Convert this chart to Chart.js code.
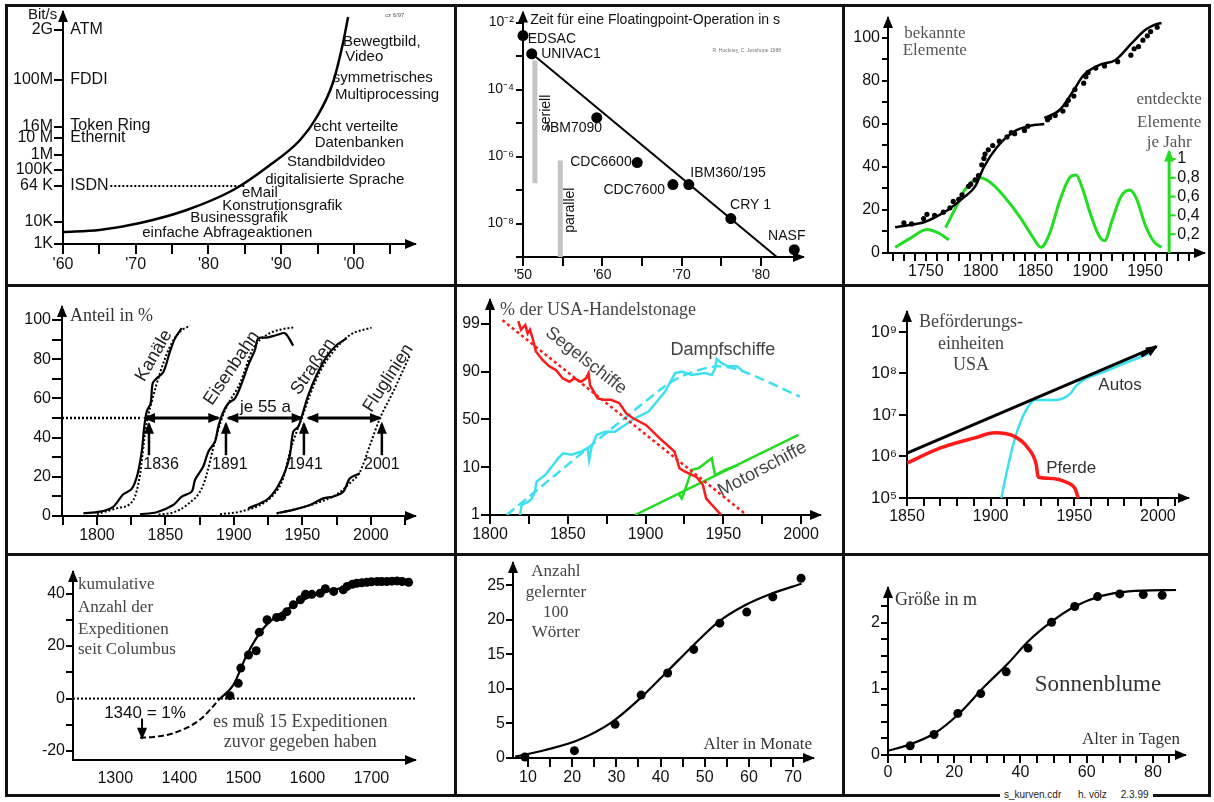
<!DOCTYPE html>
<html><head><meta charset="utf-8">
<script src="https://cdn.jsdelivr.net/npm/chart.js@4.4.1/dist/chart.umd.min.js"></script>
<style>
body{margin:0;background:#fff;width:1214px;height:802px;position:relative;overflow:hidden}
canvas{position:absolute}
.frame{position:absolute;left:5px;top:4px;width:1206px;height:793px;border:3px solid #111;box-sizing:border-box}
.vl{position:absolute;top:4px;width:3px;height:793px;background:#111}
.hl{position:absolute;left:5px;width:1206px;height:3px;background:#111}
.sig{position:absolute;left:1000px;top:789px;font:10px "Liberation Sans";background:#fff;padding:0 4px;white-space:pre;color:#222}
</style></head><body>
<div class="frame"></div>
<div class="vl" style="left:454px"></div><div class="vl" style="left:842px"></div>
<div class="hl" style="top:284px"></div><div class="hl" style="top:553px"></div>
<canvas id="c1"></canvas><canvas id="c2"></canvas><canvas id="c3"></canvas>
<canvas id="c4"></canvas><canvas id="c5"></canvas><canvas id="c6"></canvas>
<canvas id="c7"></canvas><canvas id="c8"></canvas><canvas id="c9"></canvas>
<div class="sig">s_kurven.cdr      h. völz     2.3.99</div>
<script>
// ---- 1: Datenrate (schematische Achse) ----
const rateTickAt = [0, 22, 58, 74, 89, 106, 117, 164, 214];
const rateTickLabels = ['1K', '10K', '64 K', '100K', '1M', '10 M', '16M', '100M', '2G'];
const netYears = [1960, 1965, 1970.6, 1977, 1983.4, 1988.1, 1992.6, 1994.9, 1997.1, 1998.5, 1999.2];
const netRate = [12, 14, 21, 34, 54, 77, 104, 127, 161, 201, 227];
const isdnYears = [1966.5, 1985];
const isdnRate = [58, 58];

// ---- 2: Floatingpoint ----
const computers = ['EDSAC', 'UNIVAC1', 'IBM7090', 'CDC6600', 'CDC7600', 'IBM360/195', 'CRY 1', 'NASF'];
const compYears = [1950, 1951.1, 1959.3, 1964.4, 1968.9, 1970.9, 1976.2, 1984.2];
const compSeconds = [4.1e-3, 1.17e-3, 1.45e-5, 6.6e-7, 1.45e-7, 1.45e-7, 1.4e-8, 1.66e-9];
const trendYears = [1951.1, 1982];
const trendSeconds = [1.2e-3, 1e-9];
const seriellYears = [1951.5, 1951.5], seriellSeconds = [7.4e-4, 1.6e-7];
const parallelYears = [1954.7, 1954.7], parallelSeconds = [7.6e-7, 1e-9];

// ---- 3: Elemente ----
const knownYears = [1722, 1735, 1749, 1760, 1770, 1785, 1795, 1803, 1815, 1830, 1845, 1858, 1858, 1858, 1872, 1885, 1894, 1908, 1923, 1938, 1950, 1958, 1965];
const knownCount = [12, 13, 14.4, 17, 20, 26, 31, 40, 49.3, 56.3, 59.2, 60, null, 62.8, 66.5, 75.8, 82.8, 87.4, 89.8, 97.7, 103.7, 106, 107];
const foundYears = [1730, 1737, 1748, 1751, 1758, 1766, 1772, 1775, 1780, 1783, 1789, 1791, 1795, 1798, 1801, 1803, 1804, 1807, 1811, 1817, 1824, 1828, 1831, 1840, 1843, 1861, 1863, 1868, 1875, 1878, 1880, 1885, 1886, 1894, 1896, 1898, 1905, 1913, 1925, 1937, 1940, 1944, 1948, 1952, 1955, 1961];
const foundCount = [14, 13.5, 16, 18, 17.5, 19, 21, 24, 25, 27, 31, 32, 34, 36, 41, 44, 46, 48, 50, 52, 54, 56, 55.5, 57, 59, 62, 63, 64, 66, 69, 71, 73, 76, 79, 82, 84, 86, 87, 89, 92, 95, 96, 99, 101, 103, 105];
const perYearA = [1722, 1735, 1751, 1762, 1771];
const perYearAVal = [0.06, 0.15, 0.25, 0.21, 0.14];
const perYearB = [1768, 1778, 1786, 1800, 1812, 1825, 1836, 1847, 1855, 1863, 1872, 1881, 1887, 1893, 1900, 1908, 1913, 1920, 1928, 1936, 1942, 1950, 1958, 1965];
const perYearBVal = [0.27, 0.5, 0.68, 0.8, 0.72, 0.55, 0.38, 0.18, 0.06, 0.21, 0.55, 0.8, 0.83, 0.68, 0.42, 0.18, 0.13, 0.35, 0.6, 0.67, 0.58, 0.3, 0.12, 0.06];
const perYearTicks = [0.2, 0.4, 0.6, 0.8, 1];
const perYearLabels = ['0,2', '0,4', '0,6', '0,8', '1'];

// ---- 4: Infrastruktur ----
const kanalYears = [1790.1, 1802.2, 1811.9, 1819.2, 1825.4, 1829.5, 1832.7, 1834.4, 1836.3, 1839.2, 1840.7, 1843.6, 1848.4, 1853.3, 1857, 1861.9];
const kanalShare = [1.4, 2.2, 4.7, 11.1, 13.8, 20.9, 32.8, 44.7, 53.2, 57.5, 67.7, 70.2, 73.3, 83.8, 90.6, 95.8];
const kanalFitYears = [1800, 1815, 1826.6, 1831.4, 1835.6, 1840, 1846, 1853.3, 1860.6, 1868];
const kanalFitShare = [1, 4, 8.2, 20.9, 44.7, 58.3, 72.8, 86.4, 94, 97.1];
const bahnYears = [1831.4, 1843.6, 1855.7, 1861.9, 1869.2, 1871.6, 1877.6, 1881.3, 1886.2, 1888.6, 1891.8, 1895.9, 1900.8, 1905.7, 1910.5, 1915.4, 1917.8, 1923.9, 1931.2, 1937.3, 1943.3];
const bahnShare = [0.9, 1.9, 5.6, 9.9, 12.4, 18.4, 25.2, 32.8, 37.9, 45.6, 52.4, 57.5, 60, 67.7, 77, 84.7, 90.6, 91, 92.3, 93.2, 86.9];
const bahnFitYears = [1845, 1855.7, 1865.5, 1877.6, 1887.4, 1893.5, 1904.4, 1914.1, 1923.9, 1936, 1943.3];
const bahnFitShare = [0.8, 1.8, 5.6, 15.8, 41.3, 53.9, 67.7, 85.5, 92.3, 95.4, 96.1];
const strasseYears = [1910.5, 1923.9, 1931.2, 1937.3, 1940.9, 1943.3, 1947, 1949.5, 1954.3, 1960.4, 1967.7, 1975, 1982.3];
const strasseShare = [3.9, 8.2, 14.1, 22.6, 31.1, 43, 45.6, 50.7, 61.7, 71.9, 81.3, 87.2, 90.6];
const strasseFitYears = [1889.8, 1904.4, 1919, 1928.7, 1936, 1940.9, 1945.8, 1949.5, 1955.5, 1962.8, 1972.5, 1984.7, 2000.5];
const strasseFitShare = [0.9, 2.2, 5.6, 10.7, 19.2, 32.8, 43, 49.8, 61.7, 73.6, 83.8, 92.3, 96.1];
const flugYears = [1931.2, 1943.3, 1955.5, 1965.2, 1972.5, 1979.8, 1984.7, 1992];
const flugShare = [1.4, 3.1, 5.6, 9, 9.9, 12.4, 19.2, 21.8];
const flugFitYears = [1931.2, 1945, 1960, 1975, 1985, 1992, 1999.3, 2006.6, 2016.3, 2028.5];
const flugFitShare = [1.2, 3.5, 6.5, 11, 17, 22.5, 36.1, 49.8, 63.4, 82.1];
const halfYears = [1774.5, 1831.4], halfShare = [50, 50];

// ---- 5: Handelstonage (Achse 1/10/50/90/99 gleichabstaendig) ----
const shareStops = [1, 10, 50, 90, 99];
const segelYears = [1818.2, 1819.9, 1822.7, 1824.2, 1825.7, 1827.4, 1829.5, 1833.8, 1838.1, 1842.4, 1846.7, 1851, 1854.2, 1858.5, 1861.7, 1863.4, 1864.3, 1869.2, 1873.5, 1877.8, 1883.2, 1887.5, 1891.8, 1900.4, 1909, 1918.6, 1921.8, 1925.1, 1932.6, 1936.9, 1939, 1948.7];
const segelShare = [99.5, 97.9, 98.8, 97.2, 97.9, 96.3, 93.8, 92.2, 91.0, 90.3, 84.4, 81.6, 84.4, 81.6, 84.4, 88.8, 78.8, 67.6, 66.4, 66.4, 63.6, 55.2, 51.2, 45.2, 34.4, 23.2, 9.8, 9.2, 8.2, 6.7, 4.1, 1.0];
const segelFitYears = [1808, 1965], segelFitShare = [99.7, 1];
const dampfYears = [1819.3, 1820.4, 1824.7, 1826.8, 1828.9, 1830, 1835.4, 1839.7, 1843.9, 1847.1, 1852.5, 1859, 1862.8, 1863.7, 1865.4, 1868.6, 1874, 1880.4, 1886.8, 1893.2, 1901.8, 1912.5, 1919, 1923.3, 1929.7, 1938.3, 1942.6, 1944.7, 1945.8, 1949, 1953.3, 1958.7, 1961.9];
const dampfShare = [1.0, 2.9, 3.5, 4.1, 5.4, 7.3, 8.5, 10.4, 17.6, 21.6, 20.4, 23.2, 26, 16, 27.2, 37, 39.8, 39.8, 45.4, 51, 56.4, 73.2, 88.8, 90, 87.2, 88.8, 87.2, 90.6, 92.4, 91.6, 91, 91, 90.3];
const dampfFitYears = [1810.7, 1913.3, 1928.3, 1945.5, 1960.6, 1999.2];
const dampfFitShare = [1.0, 78.8, 88.8, 91.0, 90.3, 69.2];
const motorYears = [1921.1, 1923.3, 1925.4, 1929.7, 1934, 1942.6, 1944.7, 1951.1, 1959.7];
const motorShare = [5.1, 4.1, 5.7, 9.5, 9.8, 17.5, 8.5, 9.5, 11.9];
const motorFitYears = [1893.2, 1998.3], motorFitShare = [1, 37];

// ---- 6: Befoerderungseinheiten ----
const horseYears = [1850, 1870, 1890.5, 1902.5, 1914.5, 1922.3, 1927.3, 1928.4, 1934.4, 1946.4, 1950.4, 1952.4];
const horseUnits = [6.9e5, 1.6e6, 2.8e6, 3.7e6, 3.0e6, 1.6e6, 6.3e5, 3.2e5, 3.0e5, 2.3e5, 1.7e5, 1e5];
const carYears = [1906.4, 1910.6, 1914.6, 1920.7, 1926.6, 1938.6, 1948.4, 1950.4, 1970.4, 1996];
const carUnits = [1e5, 6.3e5, 2.8e6, 1.2e7, 2.3e7, 2.3e7, 3.5e7, 4.7e7, 1.2e8, 3.1e8];
const unitTrendYears = [1850, 1999], unitTrendValues = [1.2e6, 4.4e8];

// ---- 7: Expeditionen ----
const expYears = [1479, 1492, 1496, 1508, 1520, 1525, 1537, 1552, 1560, 1568, 1578, 1589, 1597, 1607, 1620, 1628, 1641, 1656, 1662, 1670, 1677, 1685, 1693, 1700, 1709, 1716, 1724, 1732, 1740, 1748, 1758];
const expCount = [1.1, 5.8, 11.6, 16.6, 18.2, 25.3, 30, 30.9, 31.2, 33.1, 35.7, 37.6, 39.7, 39.7, 40.1, 41.8, 40.8, 41.4, 42.7, 43.5, 43.9, 44.1, 44.3, 44.5, 44.6, 44.6, 44.6, 44.7, 44.8, 44.6, 44.3];
const expBeforeYears = [1338.7, 1360, 1390.7, 1432, 1463.7];
const expBeforeCount = [-14.9, -14.6, -13.2, -8.1, 0];
const expFitYears = [1463.7, 1484.5, 1505.3, 1531.4, 1562.6, 1599, 1640.6, 1693, 1760];
const expFitCount = [0, 5.2, 16.6, 26.8, 33.1, 38.2, 41.4, 43.5, 44.8];
const zeroYears = [1234, 1768], zeroCount = [0, 0];

// ---- 8: Woerter ----
const wordAge = [9.3, 20.5, 29.7, 35.6, 41.6, 47.5, 53.4, 59.5, 65.4, 71.8];
const wordCount = [0.15, 1.06, 4.87, 9.1, 12.3, 15.7, 19.5, 21.1, 23.3, 26.0];
const wordFitAge = [7.1, 13.9, 21.4, 29, 35, 41.8, 47.1, 53.1, 59.1, 65.2, 71.9];
const wordFitCount = [0.2, 1.16, 2.6, 5.2, 8.4, 12.7, 16.1, 19.7, 22.1, 23.8, 25.2];

// ---- 9: Sonnenblume ----
const sunDays = [6.7, 13.9, 21.1, 28, 35.7, 42.3, 49.4, 56.4, 63.3, 70, 77.1, 82.8];
const sunHeight = [0.14, 0.31, 0.63, 0.93, 1.26, 1.62, 2.01, 2.25, 2.40, 2.44, 2.43, 2.42];
const sunFitDays = [0, 6, 14.1, 21.1, 29.2, 36.3, 42.3, 49.4, 56.4, 64.5, 72.6, 87];
const sunFitHeight = [0.065, 0.15, 0.33, 0.61, 1.04, 1.39, 1.72, 2.02, 2.25, 2.41, 2.48, 2.50];

// ---------------------------------------------------------------
const SANS = '"Liberation Sans", Arial, sans-serif';
const SERIF = '"Liberation Serif", "Times New Roman", serif';
const fnt = (s, fam) => s + 'px ' + fam;
Chart.defaults.font.family = SANS;
Chart.defaults.color = '#111';

const range = (a, b, s) => { const r = []; for (let v = a; v <= b + 1e-9; v += s) r.push(+v.toFixed(6)); return r; };
const pts = (xs, ys, fy) => xs.map((x, i) => ({x, y: ys[i] == null ? null : (fy ? fy(ys[i]) : ys[i])}));

// position of a percentage on the evenly spaced 1/10/50/90/99 axis
function shareLevel(p) {
  let i = 0;
  while (i < shareStops.length - 2 && p > shareStops[i + 1]) i++;
  return i + (p - shareStops[i]) / (shareStops[i + 1] - shareStops[i]);
}

function axis(min, max, ticks, labAt, labTxt, o = {}) {
  return {
    type: o.type || 'linear', min, max,
    grid: {drawOnChartArea: false, drawTicks: o.noTicks ? false : true, tickLength: o.tl || 8, color: '#000', lineWidth: 2},
    border: {color: '#000', width: 2},
    ticks: {
      autoSkip: false, maxRotation: 0, minRotation: 0, padding: o.pad == null ? 2 : o.pad, color: '#111',
      font: {size: o.fs || 16},
      callback: v => {
        const i = labAt.findIndex(l => Math.abs(l - v) <= Math.abs(v) * 1e-6 + 1e-12);
        return i < 0 ? '' : labTxt[i];
      }
    },
    afterBuildTicks: s => { s.ticks = ticks.map(v => ({value: v})); }
  };
}

const line = (data, color, w, extra) => Object.assign({data, showLine: true, borderColor: color, borderWidth: w, pointRadius: 0, tension: 0}, extra);
const smooth = {tension: 0.4, cubicInterpolationMode: 'monotone'};
const dots = (data, r, color) => ({data, showLine: false, pointRadius: r, pointBackgroundColor: color || '#000', pointBorderWidth: 0, clip: false});

function head(ctx, x, y, ang, color) {
  ctx.save();
  ctx.translate(x, y); ctx.rotate(ang);
  ctx.fillStyle = color || '#000';
  ctx.beginPath(); ctx.moveTo(2, 0); ctx.lineTo(-10, -5); ctx.lineTo(-10, 5); ctx.closePath(); ctx.fill();
  ctx.restore();
}

const decor = {
  id: 'decor',
  afterDraw(chart, args, o) {
    const {ctx, chartArea: a, scales} = chart;
    const X = v => scales.x.getPixelForValue(v);
    const Y = (v, id) => scales[id || 'y'].getPixelForValue(v);
    ctx.save();
    head(ctx, a.left, a.top, -Math.PI / 2);
    head(ctx, a.right, a.bottom, 0);
    (o.lines || []).forEach(l => {
      const p = l.pts.map(q => [X(q[0]), Y(q[1], l.ya)]);
      ctx.strokeStyle = l.c || '#000'; ctx.lineWidth = l.w || 2; ctx.setLineDash(l.dash || []);
      ctx.beginPath();
      p.forEach((q, i) => i ? ctx.lineTo(q[0], q[1]) : ctx.moveTo(q[0], q[1]));
      ctx.stroke(); ctx.setLineDash([]);
      const n = p.length - 1;
      if (l.head === 'end' || l.head === 'both') head(ctx, p[n][0], p[n][1], Math.atan2(p[n][1] - p[n - 1][1], p[n][0] - p[n - 1][0]), l.c);
      if (l.head === 'both') head(ctx, p[0][0], p[0][1], Math.atan2(p[0][1] - p[1][1], p[0][0] - p[1][0]), l.c);
    });
    (o.texts || []).forEach(t => {
      ctx.save();
      ctx.translate(X(t.x), Y(t.y, t.ya));
      if (t.rot) ctx.rotate(t.rot * Math.PI / 180);
      ctx.font = t.f || fnt(15, SANS);
      ctx.fillStyle = t.c || '#111';
      ctx.textAlign = t.al || 'left'; ctx.textBaseline = 'middle';
      ctx.fillText(t.t, 0, 0);
      ctx.restore();
    });
    ctx.restore();
  }
};
Chart.register(decor);

// box = canvas [left, top, width, height], area = plot [left, top, right, bottom] on the page
function makeChart(id, box, area, datasets, scales, decorOpts) {
  const cv = document.getElementById(id);
  cv.style.left = box[0] + 'px'; cv.style.top = box[1] + 'px';
  cv.width = box[2]; cv.height = box[3];
  const yW = area[0] - box[0], xH = box[1] + box[3] - area[3];
  scales.x.afterFit = s => { s.height = xH; s.paddingLeft = 0; s.paddingRight = 0; };
  scales.y.afterFit = s => { s.width = yW; s.paddingTop = 0; s.paddingBottom = 0; };
  return new Chart(cv, {
    type: 'scatter',
    data: {datasets},
    options: {
      responsive: false, animation: false, devicePixelRatio: 1,
      layout: {padding: {top: area[1] - box[1], right: box[0] + box[2] - area[2], left: 0, bottom: 0}},
      scales,
      plugins: {legend: {display: false}, tooltip: {enabled: false}, decor: decorOpts}
    }
  });
}

const ROW = [7, 287, 556], RH = [277, 266, 238];
const COL = [8, 457, 845], CW = [446, 385, 363];
const RED = '#ff1a1a', CYAN = '#3ee0f0', GREEN = '#22dd22';

// 1
makeChart('c1', [COL[0], ROW[0], CW[0], RH[0]], [63, 12, 415, 244], [
  line(pts(netYears, netRate), '#000', 2.5, smooth),
  line(pts(isdnYears, isdnRate), '#000', 2, {borderDash: [2, 2]})
], {
  x: axis(1960, 2008.4, range(1960, 2005, 5), [1960, 1970, 1980, 1990, 2000], ["'60", "'70", "'80", "'90", "'00"], {tl: 10, pad: 1}),
  y: axis(0, 232, rateTickAt, rateTickAt, rateTickLabels, {tl: 9, pad: 1})
}, {
  texts: [
    {x: 1959.2, y: 229, t: 'Bit/s', al: 'right', f: fnt(15, SANS)},
    {x: 1961, y: 214, t: 'ATM', f: fnt(16, SANS)}, {x: 1961, y: 164, t: 'FDDI', f: fnt(16, SANS)},
    {x: 1961, y: 118, t: 'Token Ring', f: fnt(16, SANS)}, {x: 1961, y: 106, t: 'Ethernit', f: fnt(16, SANS)},
    {x: 1961, y: 58, t: 'ISDN', f: fnt(16, SANS)},
    {x: 1998.5, y: 202, t: 'Bewegtbild,'}, {x: 1998.8, y: 187, t: 'Video'},
    {x: 1997.1, y: 166, t: 'symmetrisches'}, {x: 1997.4, y: 149, t: 'Multiprocessing'},
    {x: 1994.4, y: 117, t: 'echt verteilte'}, {x: 1994.6, y: 101, t: 'Datenbanken'},
    {x: 1990.8, y: 82, t: 'Standbildvideo'}, {x: 1987.8, y: 64, t: 'digitalisierte Sprache'},
    {x: 1984.6, y: 51, t: 'eMail'}, {x: 1981.9, y: 38, t: 'Konstrutionsgrafik'},
    {x: 1977.5, y: 26, t: 'Businessgrafik'}, {x: 1970.9, y: 11, t: 'einfache Abfrageaktionen'},
    {x: 2005.6, y: 229, t: 'cz 6/97', f: fnt(6, SANS), c: '#555', al: 'center'}
  ]
});

// 2
const exps2 = range(-9, -2, 1).map(e => Math.pow(10, e));
makeChart('c2', [COL[1], ROW[0], CW[1], RH[0]], [523, 12, 803, 257], [
  line(pts(trendYears, trendSeconds), '#000', 2),
  line(pts(seriellYears, seriellSeconds), '#c4c4c4', 5),
  line(pts(parallelYears, parallelSeconds), '#c4c4c4', 5),
  dots(pts(compYears, compSeconds), 5.5)
], {
  x: axis(1950, 1985.3, range(1950, 1980, 5), [1950, 1960, 1970, 1980], ["'50", "'60", "'70", "'80"], {tl: 9, fs: 14, pad: 1}),
  y: axis(1e-9, 0.02, exps2, [1e-8, 1e-6, 1e-4, 1e-2], ['10⁻⁸', '10⁻⁶', '10⁻⁴', '10⁻²'], {type: 'logarithmic', tl: 7, fs: 14})
}, {
  texts: [
    {x: 1950.9, y: 1.15e-2, t: 'Zeit für eine Floatingpoint-Operation in s', f: fnt(14, SANS)},
    {x: 1978.2, y: 1.45e-3, t: 'R. Hockney, C. Jesshope 1988', f: fnt(5, SANS), c: '#777', al: 'center'},
    {x: 1950.6, y: 3.3e-3, t: computers[0], f: fnt(14, SANS)},
    {x: 1952.3, y: 1.18e-3, t: computers[1], f: fnt(14, SANS)},
    {x: 1952.9, y: 6.9e-6, t: computers[2], f: fnt(14, SANS)},
    {x: 1963.7, y: 6.6e-7, t: computers[3], f: fnt(14, SANS), al: 'right'},
    {x: 1967.9, y: 1.0e-7, t: computers[4], f: fnt(14, SANS), al: 'right'},
    {x: 1971.1, y: 3.3e-7, t: computers[5], f: fnt(14, SANS)},
    {x: 1976.1, y: 3.5e-8, t: computers[6], f: fnt(14, SANS)},
    {x: 1980.9, y: 4.1e-9, t: computers[7], f: fnt(14, SANS)},
    {x: 1952.9, y: 2e-5, t: 'seriell', rot: -90, al: 'center', f: fnt(14, SANS)},
    {x: 1956, y: 2.5e-8, t: 'parallel', rot: -90, al: 'center', f: fnt(14, SANS)}
  ]
});

// 3
const gAxisYear = 1971.9;
makeChart('c3', [COL[2], ROW[0], CW[2], RH[0]], [888, 18, 1205, 253], [
  line(pts(knownYears, knownCount), '#000', 2.5, Object.assign({spanGaps: false}, smooth)),
  dots(pts(foundYears, foundCount), 2.6),
  line(pts(perYearA, perYearAVal), GREEN, 3, Object.assign({yAxisID: 'y2'}, smooth)),
  line(pts(perYearB, perYearBVal), GREEN, 3, Object.assign({yAxisID: 'y2'}, smooth))
], {
  x: axis(1715.5, 2003.7, range(1720, 1990, 10), [1750, 1800, 1850, 1900, 1950], ['1750', '1800', '1850', '1900', '1950'], {tl: 8, pad: 1}),
  y: axis(0, 109.3, range(0, 100, 10), [0, 20, 40, 60, 80, 100], ['0', '20', '40', '60', '80', '100'], {tl: 6}),
  y2: {type: 'linear', display: false, min: 0, max: 2.5}
}, {
  lines: [{pts: [[gAxisYear, 0], [gAxisYear, 1.08]], ya: 'y2', c: GREEN, w: 3, head: 'end'}]
    .concat(perYearTicks.map(v => ({pts: [[gAxisYear, v], [gAxisYear + 6, v]], ya: 'y2', c: GREEN, w: 2}))),
  texts: [
    {x: 1758.2, y: 102.3, t: 'bekannte', f: fnt(17, SERIF), c: '#555', al: 'center'},
    {x: 1758.2, y: 94, t: 'Elemente', f: fnt(17, SERIF), c: '#555', al: 'center'},
    {x: gAxisYear, y: 71.2, t: 'entdeckte', f: fnt(17, SERIF), c: '#555', al: 'center'},
    {x: gAxisYear, y: 60.9, t: 'Elemente', f: fnt(17, SERIF), c: '#555', al: 'center'},
    {x: gAxisYear, y: 51.2, t: 'je Jahr', f: fnt(17, SERIF), c: '#555', al: 'center'}
  ].concat(perYearTicks.map((v, i) => ({x: gAxisYear + 7.5, y: v, ya: 'y2', t: perYearLabels[i], f: fnt(16, SANS)})))
});

// 4
const dotted = {borderDash: [2, 2]};
makeChart('c4', [COL[0], ROW[1], CW[0], RH[1]], [62, 307, 415, 516], [
  line(pts(kanalFitYears, kanalFitShare), '#000', 2, Object.assign({}, dotted, smooth)),
  line(pts(kanalYears, kanalShare), '#000', 2.2, {tension: 0.3}),
  line(pts(bahnFitYears, bahnFitShare), '#000', 2, Object.assign({}, dotted, smooth)),
  line(pts(bahnYears, bahnShare), '#000', 2.2, {tension: 0.3}),
  line(pts(strasseFitYears, strasseFitShare), '#000', 2, Object.assign({}, dotted, smooth)),
  line(pts(strasseYears, strasseShare), '#000', 2.2, {tension: 0.3}),
  line(pts(flugFitYears, flugFitShare), '#000', 2, Object.assign({}, dotted, smooth)),
  line(pts(flugYears, flugShare), '#000', 2.2, {tension: 0.3}),
  line(pts(halfYears, halfShare), '#000', 2.5, dotted)
], {
  x: axis(1774.5, 2032.2, range(1775, 2025, 25), [1800, 1850, 1900, 1950, 2000], ['1800', '1850', '1900', '1950', '2000'], {tl: 9, pad: 1}),
  y: axis(0, 106.6, range(0, 100, 10), [0, 20, 40, 60, 80, 100], ['0', '20', '40', '60', '80', '100'], {tl: 10, pad: 1})
}, {
  lines: [
    {pts: [[1835.1, 50], [1888.6, 50]], head: 'both', w: 3},
    {pts: [[1895.9, 50], [1949.5, 50]], head: 'both', w: 3},
    {pts: [[1954.3, 50], [2006.6, 50]], head: 'both', w: 3},
    {pts: [[1838, 31], [1838, 47]], head: 'end', w: 2.5},
    {pts: [[1894.2, 31], [1894.2, 47]], head: 'end', w: 2.5},
    {pts: [[1951.1, 31], [1951.1, 47]], head: 'end', w: 2.5},
    {pts: [[2008, 31], [2008, 47]], head: 'end', w: 2.5}
  ],
  texts: [
    {x: 1780.3, y: 102, t: 'Anteil in %', f: fnt(18, SERIF), c: '#333'},
    {x: 1841.7, y: 81.8, t: 'Kanäle', rot: -60, al: 'center', f: fnt(18, SANS), c: '#222'},
    {x: 1898.4, y: 75.4, t: 'Eisenbahn', rot: -56, al: 'center', f: fnt(18, SANS), c: '#222'},
    {x: 1957.9, y: 76.2, t: 'Straßen', rot: -55, al: 'center', f: fnt(18, SANS), c: '#222'},
    {x: 2012.7, y: 70.3, t: 'Fluglinien', rot: -57, al: 'center', f: fnt(18, SANS), c: '#222'},
    {x: 1904.4, y: 55.6, t: 'je 55 a', f: fnt(17, SANS)},
    {x: 1846.8, y: 26, t: '1836', al: 'center', f: fnt(16, SANS)},
    {x: 1897, y: 26, t: '1891', al: 'center', f: fnt(16, SANS)},
    {x: 1951.9, y: 26, t: '1941', al: 'center', f: fnt(16, SANS)},
    {x: 2008, y: 26, t: '2001', al: 'center', f: fnt(16, SANS)}
  ]
});

// 5
makeChart('c5', [COL[1], ROW[1], CW[1], RH[1]], [490, 300, 820, 515], [
  line(pts(segelFitYears, segelFitShare, shareLevel), RED, 2.5, {borderDash: [3, 3]}),
  line(pts(segelYears, segelShare, shareLevel), RED, 2.5),
  line(pts(dampfFitYears, dampfFitShare, shareLevel), CYAN, 2.5, {borderDash: [10, 5], tension: 0.3}),
  line(pts(dampfYears, dampfShare, shareLevel), CYAN, 2.5),
  line(pts(motorFitYears, motorFitShare, shareLevel), GREEN, 2.5),
  line(pts(motorYears, motorShare, shareLevel), GREEN, 2.5)
], {
  x: axis(1800, 2012.2, range(1800, 2000, 25), [1800, 1850, 1900, 1950, 2000], ['1800', '1850', '1900', '1950', '2000'], {tl: 9, pad: 1}),
  y: axis(0, 4.5, [0, 1, 2, 3, 4], [0, 1, 2, 3, 4], shareStops.map(String), {tl: 9, pad: 1})
}, {
  texts: [
    {x: 1806.4, y: 4.29, t: '% der USA-Handelstonage', f: fnt(18, SERIF), c: '#444'},
    {x: 1861.7, y: 3.23, t: 'Segelschiffe', rot: 38, al: 'center', f: fnt(18, SANS), c: '#444'},
    {x: 1949.8, y: 3.46, t: 'Dampfschiffe', al: 'center', f: fnt(18, SANS), c: '#444'},
    {x: 1975.1, y: 0.96, t: 'Motorschiffe', rot: -28, al: 'center', f: fnt(18, SANS), c: '#444'}
  ]
});

// 6
const exps6 = range(5, 9, 1).map(e => Math.pow(10, e));
makeChart('c6', [COL[2], ROW[1], CW[2], RH[1]], [907, 312, 1188, 498], [
  line(pts(unitTrendYears, unitTrendValues), '#000', 3),
  line(pts(horseYears, horseUnits), RED, 3.5, smooth),
  line(pts(carYears, carUnits), CYAN, 2.5, smooth)
], {
  x: axis(1850, 2018, range(1850, 2010, 10), [1850, 1900, 1950, 2000], ['1850', '1900', '1950', '2000'], {tl: 8, pad: 1}),
  y: axis(1e5, 3e9, exps6, exps6, ['10⁵', '10⁶', '10⁷', '10⁸', '10⁹'], {type: 'logarithmic', tl: 8, fs: 17})
}, {
  lines: [{pts: [[1990, 2.6e8], [1999, 4.4e8]], head: 'end', w: 3}],
  texts: [
    {x: 1888.3, y: 1.66e9, t: 'Beförderungs-', al: 'center', f: fnt(18, SERIF), c: '#444'},
    {x: 1888.3, y: 5.1e8, t: 'einheiten', al: 'center', f: fnt(18, SERIF), c: '#444'},
    {x: 1888.3, y: 1.58e8, t: 'USA', al: 'center', f: fnt(18, SERIF), c: '#444'},
    {x: 1964.4, y: 5.2e7, t: 'Autos', f: fnt(17, SANS), c: '#333'},
    {x: 1933.2, y: 5.3e5, t: 'Pferde', f: fnt(17, SANS), c: '#333'}
  ]
});

// 7
makeChart('c7', [COL[0], ROW[2], CW[0], RH[2]], [73, 572, 415, 760], [
  line(pts(zeroYears, zeroCount), '#000', 2, dotted),
  line(pts(expBeforeYears, expBeforeCount), '#000', 2, Object.assign({borderDash: [6, 3]}, smooth)),
  line(pts(expFitYears, expFitCount), '#000', 2.2, smooth),
  dots(pts(expYears, expCount), 4.5)
], {
  x: axis(1234, 1768, range(1300, 1700, 100), [1300, 1400, 1500, 1600, 1700], ['1300', '1400', '1500', '1600', '1700'], {noTicks: true, pad: 9}),
  y: axis(-23.4, 48.2, range(-20, 40, 10), [-20, 0, 20, 40], ['-20', '0', '20', '40'], {tl: 7, pad: 1})
}, {
  lines: [{pts: [[1341.8, -7.6], [1341.8, -14.9]], head: 'end', w: 2}],
  texts: [
    {x: 1241.8, y: 43.4, t: 'kumulative', f: fnt(17, SERIF), c: '#444'},
    {x: 1241.8, y: 34.7, t: 'Anzahl der', f: fnt(17, SERIF), c: '#444'},
    {x: 1241.8, y: 26.3, t: 'Expeditionen', f: fnt(17, SERIF), c: '#444'},
    {x: 1241.8, y: 18.7, t: 'seit Columbus', f: fnt(17, SERIF), c: '#444'},
    {x: 1346.5, y: -5.7, t: '1340 = 1%', al: 'center', f: fnt(17, SANS)},
    {x: 1588.7, y: -9.1, t: 'es muß 15 Expeditionen', al: 'center', f: fnt(18, SERIF), c: '#444'},
    {x: 1588.7, y: -16.8, t: 'zuvor gegeben haben', al: 'center', f: fnt(18, SERIF), c: '#444'}
  ]
});

// 8
makeChart('c8', [COL[1], ROW[2], CW[1], RH[2]], [513, 563, 813, 758], [
  line(pts(wordFitAge, wordFitCount), '#000', 2.2, smooth),
  dots(pts(wordAge, wordCount), 4.5)
], {
  x: axis(6.6, 74.5, range(10, 70, 5), [10, 20, 30, 40, 50, 60, 70], ['10', '20', '30', '40', '50', '60', '70'], {tl: 9, pad: 1}),
  y: axis(0, 28.2, range(0, 25, 5), range(0, 25, 5), ['0', '5', '10', '15', '20', '25'], {tl: 7, pad: 1})
}, {
  texts: [
    {x: 16.3, y: 26.9, t: 'Anzahl', al: 'center', f: fnt(17, SERIF), c: '#444'},
    {x: 16.3, y: 24, t: 'gelernter', al: 'center', f: fnt(17, SERIF), c: '#444'},
    {x: 16.3, y: 21.1, t: '100', al: 'center', f: fnt(17, SERIF), c: '#444'},
    {x: 16.3, y: 18.2, t: 'Wörter', al: 'center', f: fnt(17, SERIF), c: '#444'},
    {x: 62, y: 2.0, t: 'Alter in Monate', al: 'center', f: fnt(17, SERIF), c: '#333'}
  ]
});

// 9
makeChart('c9', [COL[2], ROW[2], CW[2], RH[2]], [888, 588, 1185, 755], [
  line(pts(sunFitDays, sunFitHeight), '#000', 2.2, smooth),
  dots(pts(sunDays, sunHeight), 4.5)
], {
  x: axis(0, 89.7, range(0, 85, 5), [0, 20, 40, 60, 80], ['0', '20', '40', '60', '80'], {tl: 8, pad: 0}),
  y: axis(0, 2.53, range(0, 2.25, 0.25), [0, 1, 2], ['0', '1', '2'], {tl: 7, pad: 1})
}, {
  texts: [
    {x: 2.1, y: 2.35, t: 'Größe in m', f: fnt(18, SERIF), c: '#333'},
    {x: 63.4, y: 1.06, t: 'Sonnenblume', al: 'center', f: fnt(23, SERIF), c: '#333'},
    {x: 73.4, y: 0.23, t: 'Alter in Tagen', al: 'center', f: fnt(17, SERIF), c: '#333'}
  ]
});
</script>
</body></html>
